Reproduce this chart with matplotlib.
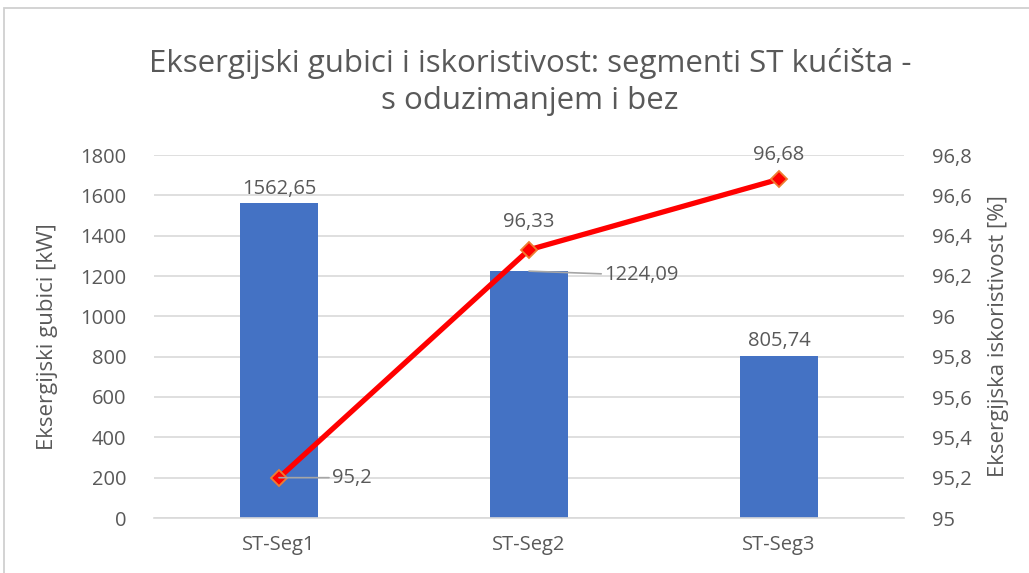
import matplotlib.pyplot as plt
from matplotlib.patches import Rectangle

# Podaci za segmente ST kucista
segments = ['ST-Seg1', 'ST-Seg2', 'ST-Seg3']
gubici = [1562.65, 1224.09, 805.74]       # kW
iskoristivost = [95.2, 96.33, 96.68]      # %

left_ticks = [0, 200, 400, 600, 800, 1000, 1200, 1400, 1600, 1800]
right_ticks = [95, 95.2, 95.4, 95.6, 95.8, 96, 96.2, 96.4, 96.6, 96.8]

plt.rcParams['font.family'] = ['Open Sans', 'DejaVu Sans']
txt = '#595959'
grid_c = '#D9D9D9'
fs = 14.5

def fmt(v):
    s = ('%.2f' % v).rstrip('0').rstrip('.')
    return s.replace('.', ',')

fig = plt.figure(figsize=(10.29, 5.73), dpi=100)
ax = fig.add_axes([154 / 1029, 1 - 518 / 573, 750 / 1029, 363 / 573])
ax2 = ax.twinx()

x = list(range(len(segments)))
ax.bar(x, gubici, width=0.31, color='#4472C4', zorder=2)
ax.set_xlim(-0.5, 2.5)
ax.set_ylim(0, 1800)
ax.set_yticks(left_ticks)
ax.set_yticklabels([str(t) for t in left_ticks])
ax.set_xticks(x)
ax.set_xticklabels(segments)
ax.grid(axis='y', color=grid_c, linewidth=1.2, zorder=0)
ax.set_axisbelow(True)
for s in ['top', 'right', 'left']:
    ax.spines[s].set_visible(False)
ax.spines['bottom'].set_color(grid_c)
ax.spines['bottom'].set_linewidth(1.2)
ax.tick_params(length=0, colors=txt, labelsize=fs, pad=20)
ax.tick_params(axis='x', pad=12)
ax.set_ylabel('Eksergijski gubici [kW]', color=txt, fontsize=16, labelpad=16)

ax2.plot(x, iskoristivost, color='#FF0000', linewidth=3.8, marker='D',
         markersize=8, markerfacecolor='#FF0000', markeredgecolor='#ED7D31',
         markeredgewidth=1.3, zorder=3)
ax2.set_ylim(95, 96.8)
ax2.set_yticks(right_ticks)
ax2.set_yticklabels([fmt(t) for t in right_ticks])
for s in ax2.spines.values():
    s.set_visible(False)
ax2.tick_params(length=0, colors=txt, labelsize=fs, pad=20)
ax2.set_ylabel('Eksergijska iskoristivost [%]', color=txt, fontsize=16,
               rotation=90, labelpad=12)

# Oznake vrijednosti stupaca
ax.annotate(fmt(gubici[0]), (x[0], gubici[0]), xytext=(0, 3),
            textcoords='offset points', ha='center', va='bottom',
            color=txt, fontsize=fs)
ax.annotate(fmt(gubici[2]), (x[2], gubici[2]), xytext=(0, 3),
            textcoords='offset points', ha='center', va='bottom',
            color=txt, fontsize=fs)
ax.annotate(fmt(gubici[1]), (x[1], gubici[1]), xytext=(54, -3),
            textcoords='offset points', ha='left', va='center',
            color=txt, fontsize=fs,
            arrowprops=dict(arrowstyle='-', color='#A6A6A6', lw=1.2,
                            shrinkA=0, shrinkB=0))

# Oznake vrijednosti iskoristivosti
ax2.annotate(fmt(iskoristivost[1]), (x[1], iskoristivost[1]), xytext=(0, 13),
             textcoords='offset points', ha='center', va='bottom',
             color=txt, fontsize=fs)
ax2.annotate(fmt(iskoristivost[2]), (x[2], iskoristivost[2]), xytext=(0, 10),
             textcoords='offset points', ha='center', va='bottom',
             color=txt, fontsize=fs)
ax2.annotate(fmt(iskoristivost[0]), (x[0], iskoristivost[0]), xytext=(38, 0),
             textcoords='offset points', ha='left', va='center',
             color=txt, fontsize=fs,
             arrowprops=dict(arrowstyle='-', color='#A6A6A6', lw=1.2,
                             shrinkA=0, shrinkB=0))

fig.text(530 / 1029, 1 - 82 / 573,
         'Eksergijski gubici i iskoristivost: segmenti ST kućišta -\ns oduzimanjem i bez',
         ha='center', va='center', color=txt, fontsize=22.5, linespacing=1.32)

# Okvir grafikona
fig.patches.append(Rectangle((4 / 1029, -0.1), 1.2, 1 - 8 / 573 + 0.1,
                             transform=fig.transFigure, fill=False,
                             edgecolor='#D0D0D0', linewidth=1.3))

fig.savefig('out.png', dpi=100)
